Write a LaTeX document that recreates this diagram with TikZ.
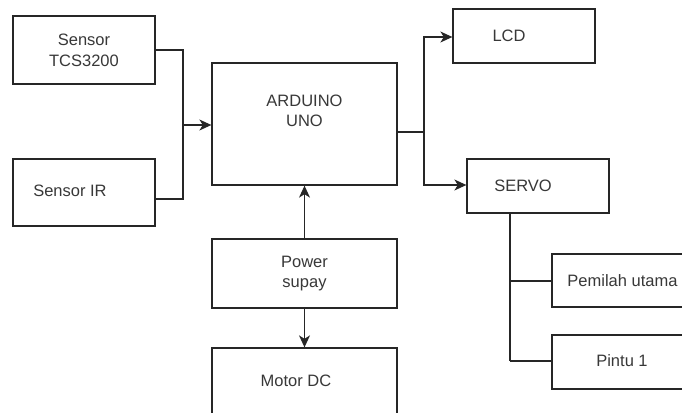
\documentclass[tikz,border=0pt]{standalone}
\usepackage{fontspec}
\setmainfont{Liberation Sans}
\usetikzlibrary{arrows.meta}
\begin{document}
\begin{tikzpicture}[x=1pt,y=-1pt,
  box/.style={draw=black!85, line width=1.3pt, rectangle, inner sep=0pt},
  txt/.style={text=black!78, align=center, font=\fontsize{16.5}{20.5}\selectfont, inner sep=0pt},
  wire/.style={draw=black!85, line width=1.3pt},
  arr/.style={wire, -{Stealth[length=12pt,width=11pt,inset=3.5pt]}}]
\useasboundingbox (0,0) rectangle (682,412);
\clip (0,0) rectangle (682,412);
\fill[white] (0,0) rectangle (682,412);
% boxes
\node[box, minimum width=142pt, minimum height=68pt] (tcs) at (84,50) {};
\node[txt] (tcst) at (84,50.5) {Sensor\\TCS3200};
\node[box, minimum width=142pt, minimum height=67pt] (ir) at (84,192.5) {};
\node[txt] (irt) at (70,191) {Sensor IR};
\node[box, minimum width=185pt, minimum height=122pt] (ard) at (304.5,124) {};
\node[txt] (ardt) at (304.5,111) {ARDUINO\\UNO};
\node[box, minimum width=142pt, minimum height=54pt] (lcd) at (524,36) {};
\node[txt] (lcdt) at (509,36) {LCD};
\node[box, minimum width=142pt, minimum height=54pt] (servo) at (538,186) {};
\node[txt] (servot) at (523,185.5) {SERVO};
\node[box, minimum width=142pt, minimum height=53pt] (pem) at (623,280.5) {};
\node[txt] (pemt) at (622.5,281) {Pemilah utama};
\node[box, minimum width=142pt, minimum height=54pt] (pin) at (623,362) {};
\node[txt] (pint) at (622,360.5) {Pintu 1};
\node[box, minimum width=185pt, minimum height=69pt] (pow) at (304.5,273.5) {};
\node[txt] (powt) at (304.5,273.5) {Power\\supay};
\node[box, minimum width=185pt, minimum height=68pt] (mot) at (304.5,382) {};
\node[txt] (mott) at (296,381) {Motor DC};
% junctions
\coordinate (j1) at (183,125);
\coordinate (j2) at (424,132);
\coordinate (j3) at (510,281);
\coordinate (j4) at (510,361);
% connectors
\draw[wire] (tcs.east) -| (j1);
\draw[wire] (ir.east |- 0,199) -| (j1);
\draw[arr] (j1) -- (j1 -| ard.west);
\draw[wire] (ard.east |- j2) -- (j2);
\draw[arr] (j2) |- (lcd.west |- 0,37);
\draw[arr] (j2) |- (servo.west |- 0,185);
\draw[wire] (servo.south -| j3) -- (j4);
\draw[wire] (j3) -- (j3 -| pem.west);
\draw[wire] (j4) -- (j4 -| pin.west);
\draw[arr] (pow.north) -- (ard.south);
\draw[arr] (pow.south) -- (mot.north);
\end{tikzpicture}
\end{document}
